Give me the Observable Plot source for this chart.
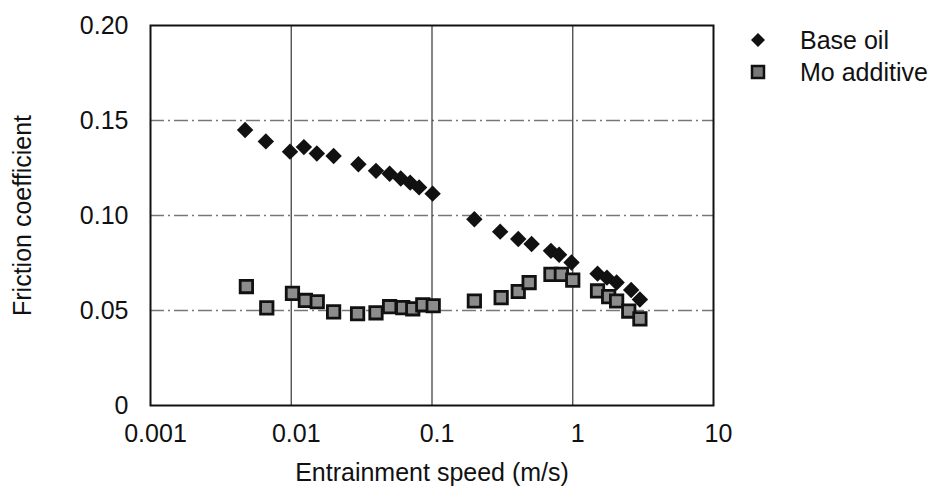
<!DOCTYPE html>
<html>
<head>
<meta charset="utf-8">
<script src="https://cdn.jsdelivr.net/npm/d3@7"></script>
<script src="https://cdn.jsdelivr.net/npm/@observablehq/plot@0.6"></script>
<style>
  html, body { margin: 0; padding: 0; background: #fff; }
  #wrap { position: relative; width: 935px; height: 493px; font-family: "Liberation Sans", Arial, sans-serif; }
  #legend { position: absolute; left: 750px; top: 24px; font-size: 25px; color: #111; line-height: 1; }
  #legend .row { display: flex; align-items: center; height: 32px; }
  #legend svg { margin-right: 34px; }
</style>
</head>
<body>
<div id="wrap"><div id="legend"></div></div>
<script>
const seriesNames = ["Base oil", "Mo additive"];
const baseSpeed = [0.0047, 0.0066, 0.0098, 0.0123, 0.0152, 0.020, 0.030, 0.040, 0.050, 0.060, 0.070, 0.081, 0.101, 0.20, 0.305, 0.41, 0.51, 0.70, 0.80, 0.98, 1.5, 1.75, 2.05, 2.6, 3.0];
const baseFriction = [0.145, 0.139, 0.1336, 0.136, 0.1326, 0.1313, 0.127, 0.1235, 0.122, 0.1195, 0.1173, 0.1148, 0.1115, 0.098, 0.0915, 0.0876, 0.085, 0.0814, 0.0793, 0.0753, 0.0694, 0.0673, 0.0647, 0.0608, 0.0558];
const moSpeed = [0.0048, 0.0067, 0.0102, 0.0126, 0.0153, 0.020, 0.0296, 0.040, 0.050, 0.062, 0.073, 0.086, 0.102, 0.20, 0.31, 0.41, 0.49, 0.70, 0.83, 1.0, 1.5, 1.8, 2.05, 2.5, 3.0];
const moFriction = [0.0626, 0.0514, 0.059, 0.0553, 0.0546, 0.0493, 0.0483, 0.0488, 0.052, 0.0515, 0.0509, 0.053, 0.0525, 0.055, 0.0568, 0.060, 0.0647, 0.069, 0.069, 0.066, 0.0603, 0.0573, 0.055, 0.0497, 0.0456];
const xTicks = [0.001, 0.01, 0.1, 1, 10];
const yTicks = [0, 0.05, 0.10, 0.15, 0.20];
const gridX = [0.01, 0.1, 1];
const gridY = [0.05, 0.10, 0.15];

const base = baseSpeed.map((s, i) => ({speed: s, friction: baseFriction[i]}));
const mo = moSpeed.map((s, i) => ({speed: s, friction: moFriction[i]}));

const chart = Plot.plot({
  width: 935,
  height: 493,
  marginLeft: 150,
  marginRight: 222,
  marginTop: 25,
  marginBottom: 88,
  style: {fontFamily: "Liberation Sans, Arial, sans-serif", fontSize: "25px", color: "#111", background: "white"},
  x: {type: "log", domain: [0.001, 10]},
  y: {domain: [0, 0.2]},
  marks: [
    Plot.ruleY(gridY, {stroke: "#777", strokeWidth: 1.3, strokeDasharray: "14,4,2,4"}),
    Plot.ruleX(gridX, {stroke: "#444", strokeWidth: 1.3}),
    Plot.frame({stroke: "#111", strokeWidth: 2}),
    Plot.axisX(xTicks, {tickFormat: d => String(d), tickSize: 0, tickPadding: 19, dx: 5,
      label: "Entrainment speed (m/s)", labelAnchor: "center", labelArrow: "none", labelOffset: 75}),
    Plot.axisY(yTicks, {tickFormat: d => d === 0 ? "0" : d.toFixed(2), tickSize: 0, tickPadding: 22,
      label: "Friction coefficient", labelAnchor: "center", labelArrow: "none", labelOffset: 137}),
    Plot.dot(base, {x: "speed", y: "friction", symbol: "diamond2", r: 7.4, fill: "#111", stroke: "none"}),
    Plot.dot(mo, {x: "speed", y: "friction", symbol: "square", r: 7, fill: "#8c8c8c", stroke: "#111", strokeWidth: 2.8})
  ]
});
document.getElementById("wrap").prepend(chart);

const legend = document.getElementById("legend");
legend.innerHTML =
  `<div class="row"><svg width="16" height="16"><path d="M8,1L15,8L8,15L1,8Z" fill="#111"/></svg><span>${seriesNames[0]}</span></div>` +
  `<div class="row"><svg width="16" height="16"><rect x="2" y="2" width="12" height="12" fill="#777" stroke="#111" stroke-width="2.5"/></svg><span>${seriesNames[1]}</span></div>`;
</script>
</body>
</html>
